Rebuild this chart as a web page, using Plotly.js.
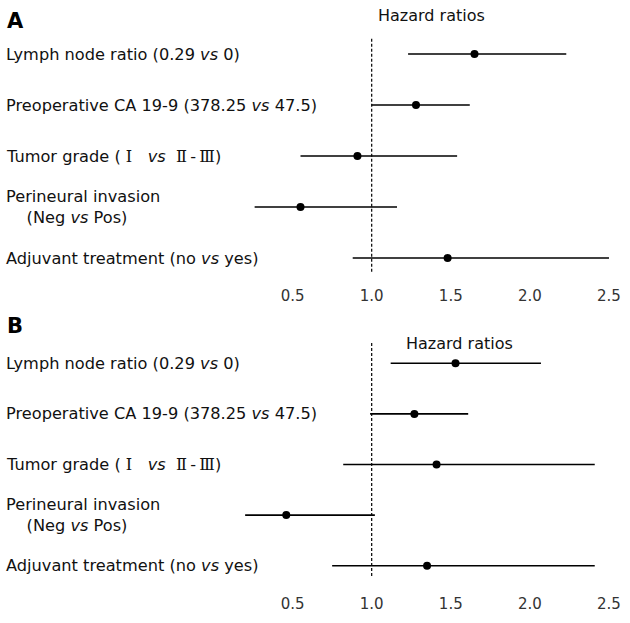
<!DOCTYPE html>
<html>
<head>
<meta charset="utf-8">
<script src="https://cdn.plot.ly/plotly-3.0.1.min.js"></script>
<style>html,body{margin:0;padding:0;background:#fff;}#chart{width:630px;height:623px;}</style>
</head>
<body>
<div id="chart"></div>
<script>
// ---- data ----
const rowLabels = [
  "Lymph node ratio (0.29 <i>vs</i> 0)",
  "Preoperative CA 19-9 (378.25 <i>vs</i> 47.5)",
  "Tumor grade (\u00A0<span style='font-family:DejaVu Serif'>Ⅰ</span>\u00A0\u00A0\u00A0<i>vs</i>\u00A0\u00A0<span style='font-family:DejaVu Serif'>Ⅱ</span>\u2009-\u2009<span style='font-family:DejaVu Serif'>Ⅲ</span>)",
  "Perineural invasion<br>\u00A0\u00A0\u00A0\u00A0(Neg <i>vs</i> Pos)",
  "Adjuvant treatment (no <i>vs</i> yes)"
];
const rowIndex = [0, 1, 2, 3, 4];
const hrA   = [1.65, 1.28, 0.91, 0.55, 1.48];
const lowA  = [1.23, 1.00, 0.55, 0.26, 0.88];
const highA = [2.23, 1.62, 1.54, 1.16, 2.50];
const hrB   = [1.53, 1.27, 1.41, 0.46, 1.35];
const lowB  = [1.12, 0.99, 0.82, 0.20, 0.75];
const highB = [2.07, 1.61, 2.41, 1.02, 2.41];
const tickVals = [0.5, 1.0, 1.5, 2.0, 2.5];
const tickText = ["0.5", "1.0", "1.5", "2.0", "2.5"];
const panelLetters = ["A", "B"];
const axisTitle = "Hazard ratios";
const refValue = 1.0;

const FONT = "DejaVu Sans, Noto Sans CJK SC, sans-serif";
const W = 630, H = 623;

function trace(hr, lo, hi, xa, ya) {
  return {
    type: "scatter", mode: "markers",
    x: hr, y: rowIndex, xaxis: xa, yaxis: ya,
    marker: {color: "#000", size: 8},
    error_x: {
      type: "data", symmetric: false,
      array: hr.map((v, i) => hi[i] - v),
      arrayminus: hr.map((v, i) => v - lo[i]),
      color: "#000", thickness: 1.6, width: 0
    },
    hoverinfo: "skip", showlegend: false
  };
}

const xCommon = {
  range: [0, 2.6], domain: [213.5 / W, 624.8 / W],
  tickvals: tickVals, ticktext: tickText,
  showgrid: false, zeroline: false, showline: false, ticks: "",
  tickfont: {family: FONT, size: 15, color: "#333"},
  ticklabelstandoff: 12, fixedrange: true
};
const yCommon = {
  range: [4.3, -0.75], showgrid: false, zeroline: false, showline: false,
  showticklabels: false, ticks: "", fixedrange: true
};

const annotations = [];
rowLabels.forEach((t, i) => {
  ["y", "y2"].forEach(ya => annotations.push({
    xref: "paper", yref: ya, x: 4 / W, y: rowIndex[i], xanchor: "left", yanchor: "middle",
    text: t, showarrow: false, align: "left",
    font: {family: FONT, size: 16.2, color: "#111"}
  }));
});
annotations.push({xref: "paper", yref: "paper", x: 5 / W, y: 1 - 21 / H, xanchor: "left", yanchor: "middle",
  text: "<b>" + panelLetters[0] + "</b>", showarrow: false, font: {family: FONT, size: 21, color: "#000"}});
annotations.push({xref: "paper", yref: "paper", x: 5 / W, y: 1 - 326 / H, xanchor: "left", yanchor: "middle",
  text: "<b>" + panelLetters[1] + "</b>", showarrow: false, font: {family: FONT, size: 21, color: "#000"}});
annotations.push({xref: "paper", yref: "paper", x: 376 / W, y: 1 - 15 / H, xanchor: "left", yanchor: "middle",
  text: axisTitle, showarrow: false, font: {family: FONT, size: 16, color: "#111"}});
annotations.push({xref: "paper", yref: "paper", x: 404 / W, y: 1 - 343 / H, xanchor: "left", yanchor: "middle",
  text: axisTitle, showarrow: false, font: {family: FONT, size: 16, color: "#111"}});

const shapes = [
  {type: "line", xref: "x", yref: "y", x0: refValue, x1: refValue, y0: -0.3, y1: 4.3,
   line: {color: "#000", width: 1.2, dash: "3px,2px"}},
  {type: "line", xref: "x2", yref: "y2", x0: refValue, x1: refValue, y0: -0.4, y1: 4.23,
   line: {color: "#000", width: 1.2, dash: "3px,2px"}}
];

const layout = {
  width: W, height: H,
  margin: {l: 0, r: 0, t: 0, b: 0},
  paper_bgcolor: "#fff", plot_bgcolor: "#fff",
  showlegend: false,
  xaxis: Object.assign({}, xCommon, {anchor: "y"}),
  yaxis: Object.assign({}, yCommon, {domain: [1 - 273.3 / H, 1 - 15.75 / H], anchor: "x"}),
  xaxis2: Object.assign({}, xCommon, {anchor: "y2"}),
  yaxis2: Object.assign({}, yCommon, {domain: [1 - 580.9 / H, 1 - 325.35 / H], anchor: "x2"}),
  annotations: annotations,
  shapes: shapes
};

Plotly.newPlot("chart", [trace(hrA, lowA, highA, "x", "y"), trace(hrB, lowB, highB, "x2", "y2")],
  layout, {displayModeBar: false, staticPlot: true});
</script>
</body>
</html>
